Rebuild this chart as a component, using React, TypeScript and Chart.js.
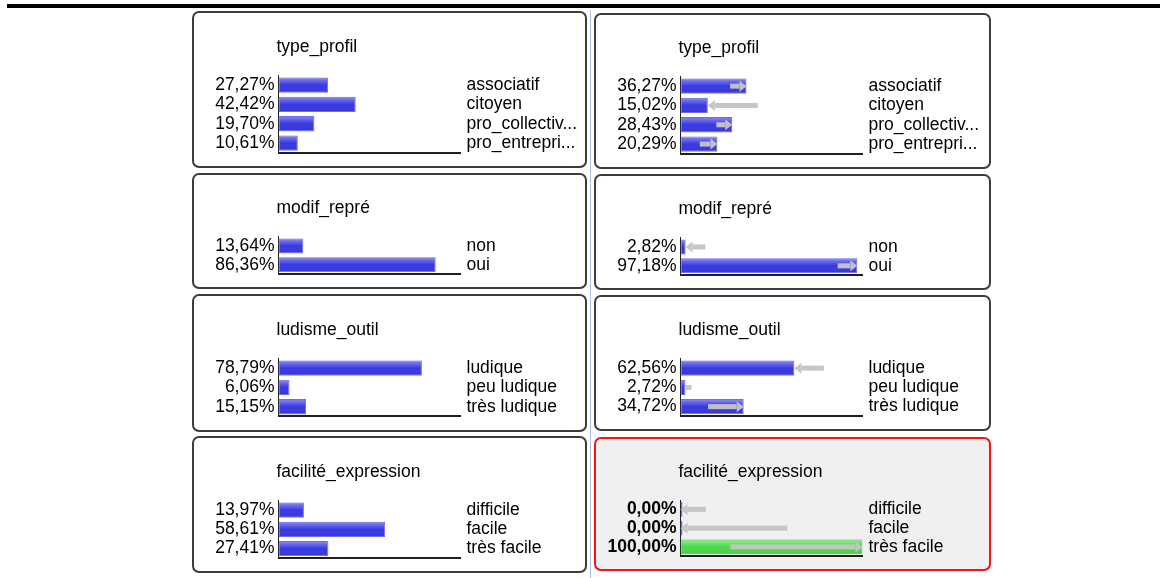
import React, { useEffect, useRef } from 'react';
import { Chart, registerables } from 'chart.js';

Chart.register(...registerables);

// ---------- data ----------
const nodeTitles = ['type_profil', 'modif_repré', 'ludisme_outil', 'facilité_expression'];

const typeProfilStates = ['associatif', 'citoyen', 'pro_collectiv...', 'pro_entrepri...'];
const typeProfilPrior = [27.27, 42.42, 19.7, 10.61];
const typeProfilPosterior = [36.27, 15.02, 28.43, 20.29];

const modifRepreStates = ['non', 'oui'];
const modifReprePrior = [13.64, 86.36];
const modifReprePosterior = [2.82, 97.18];

const ludismeStates = ['ludique', 'peu ludique', 'très ludique'];
const ludismePrior = [78.79, 6.06, 15.15];
const ludismePosterior = [62.56, 2.72, 34.72];

const faciliteStates = ['difficile', 'facile', 'très facile'];
const facilitePrior = [13.97, 58.61, 27.41];
const facilitePosterior = [0, 0, 100];
const faciliteObservedIndex = 2;

// ---------- layout / style ----------
const FONT = "'Liberation Sans', Arial, sans-serif";
const FONT_SIZE = 17.5;
const ROW = 19.3;
const CHART_LEFT = 86.5;
const BAR_AREA = 182;

const LEFT_BOXES = [
  [192, 11, 395, 157],
  [192, 173, 395, 116],
  [192, 294, 395, 138],
  [192, 436, 395, 137],
];
const RIGHT_BOXES = [
  [594, 13, 397, 156],
  [594, 174, 397, 116],
  [594, 295, 397, 136],
  [594, 437, 397, 134],
];
const LEFT_TOP = 64.5;
const LEFT_TITLE = 36.5;
const RIGHT_TOP = 63.5;
const RIGHT_TITLE = 35.5;

const fmt = (v: number) => v.toFixed(2).replace('.', ',') + '%';

const titlePlugin = {
  id: 'nodeTitle',
  afterDraw(chart: any, _args: any, opts: any) {
    const ctx = chart.ctx;
    ctx.save();
    ctx.font = `${FONT_SIZE}px ${FONT}`;
    ctx.fillStyle = '#000';
    ctx.textAlign = 'left';
    ctx.textBaseline = 'middle';
    ctx.fillText(opts.text, chart.chartArea.left - 2, opts.y);
    ctx.restore();
  },
};

const glossPlugin = {
  id: 'barGloss',
  afterDatasetsDraw(chart: any) {
    const ctx = chart.ctx;
    const meta = chart.getDatasetMeta(0);
    meta.data.forEach((el: any) => {
      const { x, y, base, height } = el.getProps(['x', 'y', 'base', 'height'], true);
      const l = Math.min(x, base);
      const r = Math.max(x, base);
      if (r - l < 3) return;
      const top = y - height / 2;
      const g = ctx.createLinearGradient(0, top, 0, top + height);
      g.addColorStop(0, 'rgba(255,255,255,0.45)');
      g.addColorStop(0.2, 'rgba(255,255,255,0.25)');
      g.addColorStop(0.5, 'rgba(255,255,255,0.0)');
      g.addColorStop(1, 'rgba(0,0,0,0.08)');
      ctx.save();
      ctx.fillStyle = g;
      ctx.fillRect(l + 1, top + 1, r - l - 2, height - 2);
      ctx.restore();
    });
  },
};

const arrowPlugin = {
  id: 'shiftArrows',
  afterDatasetsDraw(chart: any, _args: any, opts: any) {
    const from: number[] | null = opts.from;
    if (!from) return;
    const to: number[] = chart.data.datasets[0].data;
    const xs = chart.scales.x;
    const ys = chart.scales.y;
    const ctx = chart.ctx;
    ctx.save();
    ctx.fillStyle = 'rgba(196,196,196,0.97)';
    from.forEach((pv, i) => {
      const x0 = xs.getPixelForValue(pv);
      const x1 = xs.getPixelForValue(to[i]);
      const y = ys.getPixelForValue(i);
      const len = Math.abs(x1 - x0);
      if (len < 0.5) return;
      const dir = x1 > x0 ? 1 : -1;
      const head = 7;
      const shaftH = 5;
      if (len <= head) {
        ctx.fillRect(Math.min(x0, x1), y - shaftH / 2, len, shaftH);
        return;
      }
      const xh = x1 - dir * head;
      ctx.fillRect(Math.min(x0, xh), y - shaftH / 2, Math.abs(xh - x0), shaftH);
      ctx.beginPath();
      ctx.moveTo(xh, y - 5.5);
      ctx.lineTo(x1, y);
      ctx.lineTo(xh, y + 5.5);
      ctx.closePath();
      ctx.fill();
    });
    ctx.restore();
  },
};

function makeConfig(
  title: string,
  states: string[],
  values: number[],
  prev: number[] | null,
  w: number,
  h: number,
  bold: boolean,
  observed: number,
  chartTop: number,
  titleY: number
) {
  const n = states.length;
  const font = { family: FONT, size: FONT_SIZE, weight: bold ? 'bold' : 'normal', lineHeight: 1 };
  return {
    type: 'bar',
    data: {
      labels: states,
      datasets: [
        {
          data: values,
          backgroundColor: values.map((_v, i) => (i === observed ? '#4cd84c' : '#3838e2')),
          borderColor: values.map((_v, i) => (i === observed ? '#38c838' : '#6a6af2')),
          borderWidth: 1,
          borderSkipped: false,
          categoryPercentage: 1,
          barPercentage: 15.3 / ROW,
          minBarLength: 2,
        },
      ],
    },
    options: {
      indexAxis: 'y',
      animation: false,
      responsive: false,
      maintainAspectRatio: false,
      events: [],
      layout: { padding: { left: 0, right: 0, top: chartTop, bottom: h - chartTop - n * ROW } },
      plugins: {
        legend: { display: false },
        tooltip: { enabled: false },
        title: { display: false },
        nodeTitle: { text: title, y: titleY },
        shiftArrows: { from: prev },
      },
      scales: {
        x: {
          type: 'linear',
          min: 0,
          max: 100,
          grid: { display: false, drawTicks: false },
          ticks: { display: false },
          border: { display: true, color: '#202020', width: 2 },
          afterFit: (s: any) => {
            s.height = 0;
          },
        },
        y: {
          type: 'category',
          position: 'left',
          offset: true,
          grid: { display: false, drawTicks: false },
          border: { display: true, color: '#202020', width: 1 },
          ticks: {
            autoSkip: false,
            padding: 4,
            color: '#000',
            font,
            callback: (_v: any, i: number) => fmt(values[i]),
          },
          afterFit: (s: any) => {
            s.width = CHART_LEFT;
          },
        },
        y2: {
          type: 'category',
          position: 'right',
          offset: true,
          grid: { display: false, drawTicks: false },
          border: { display: false },
          ticks: {
            autoSkip: false,
            padding: 6,
            color: '#000',
            font: { family: FONT, size: FONT_SIZE, lineHeight: 1 },
            callback: (_v: any, i: number) => states[i],
          },
          afterFit: (s: any) => {
            s.width = w - CHART_LEFT - BAR_AREA;
          },
        },
      },
    },
    plugins: [glossPlugin, arrowPlugin, titlePlugin],
  };
}

type PanelSpec = {
  box: number[];
  title: string;
  states: string[];
  values: number[];
  prev: number[] | null;
  highlight: boolean;
  observed: number;
  top: number;
  titleY: number;
};

const panels: PanelSpec[] = [
  { box: LEFT_BOXES[0], title: nodeTitles[0], states: typeProfilStates, values: typeProfilPrior, prev: null, highlight: false, observed: -1, top: LEFT_TOP, titleY: LEFT_TITLE },
  { box: LEFT_BOXES[1], title: nodeTitles[1], states: modifRepreStates, values: modifReprePrior, prev: null, highlight: false, observed: -1, top: LEFT_TOP - 1, titleY: LEFT_TITLE - 1 },
  { box: LEFT_BOXES[2], title: nodeTitles[2], states: ludismeStates, values: ludismePrior, prev: null, highlight: false, observed: -1, top: LEFT_TOP, titleY: LEFT_TITLE },
  { box: LEFT_BOXES[3], title: nodeTitles[3], states: faciliteStates, values: facilitePrior, prev: null, highlight: false, observed: -1, top: LEFT_TOP, titleY: LEFT_TITLE },
  { box: RIGHT_BOXES[0], title: nodeTitles[0], states: typeProfilStates, values: typeProfilPosterior, prev: typeProfilPrior, highlight: false, observed: -1, top: RIGHT_TOP, titleY: RIGHT_TITLE },
  { box: RIGHT_BOXES[1], title: nodeTitles[1], states: modifRepreStates, values: modifReprePosterior, prev: modifReprePrior, highlight: false, observed: -1, top: RIGHT_TOP, titleY: RIGHT_TITLE },
  { box: RIGHT_BOXES[2], title: nodeTitles[2], states: ludismeStates, values: ludismePosterior, prev: ludismePrior, highlight: false, observed: -1, top: RIGHT_TOP, titleY: RIGHT_TITLE },
  { box: RIGHT_BOXES[3], title: nodeTitles[3], states: faciliteStates, values: facilitePosterior, prev: facilitePrior, highlight: true, observed: faciliteObservedIndex, top: RIGHT_TOP - 0.5, titleY: RIGHT_TITLE },
];

function Panel({ spec }: { spec: PanelSpec }) {
  const ref = useRef<HTMLCanvasElement | null>(null);
  const [x, y, w, h] = spec.box;
  useEffect(() => {
    if (!ref.current) return;
    const chart = new Chart(
      ref.current,
      makeConfig(spec.title, spec.states, spec.values, spec.prev, w, h, spec.highlight, spec.observed, spec.top, spec.titleY) as any
    );
    return () => chart.destroy();
  }, []);
  return (
    <>
      <div
        style={{
          position: 'absolute',
          left: x,
          top: y,
          width: w,
          height: h,
          boxSizing: 'border-box',
          border: spec.highlight ? '2px solid #ff1010' : '2px solid #3c3c3c',
          borderRadius: 7,
          background: spec.highlight ? '#f0f0f0' : '#ffffff',
        }}
      />
      <canvas
        ref={ref}
        width={w}
        height={h}
        style={{ position: 'absolute', left: x, top: y, width: w, height: h }}
      />
    </>
  );
}

export default function App() {
  return (
    <div
      style={{
        position: 'absolute',
        left: 0,
        top: 0,
        width: 1169,
        height: 578,
        overflow: 'hidden',
        background: '#fff',
      }}
    >
      <div style={{ position: 'absolute', left: 7, top: 4, width: 1153, height: 4, background: '#000' }} />
      <div style={{ position: 'absolute', left: 590, top: 10, width: 1, height: 568, background: '#a9c3e2' }} />
      {panels.map((p, i) => (
        <Panel key={i} spec={p} />
      ))}
    </div>
  );
}
